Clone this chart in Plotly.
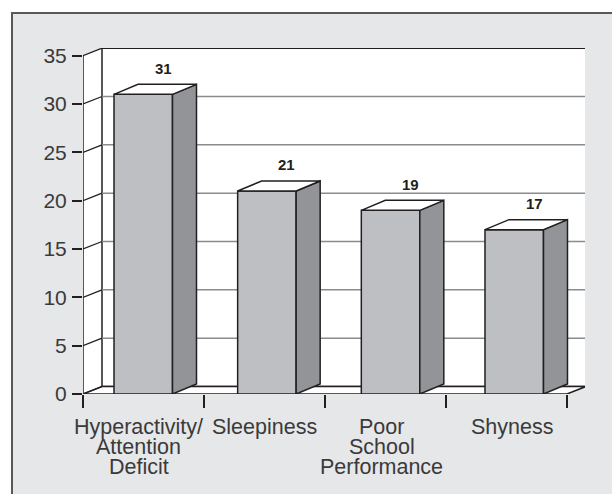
import plotly.graph_objects as go

# ---- data ----
categories = ["Hyperactivity/ Attention Deficit", "Sleepiness",
              "Poor School Performance", "Shyness"]
label_lines = [["Hyperactivity/", "Attention", "Deficit"],
               ["Sleepiness"],
               ["Poor", "School", "Performance"],
               ["Shyness"]]
values = [31, 21, 19, 17]
y_ticks = [0, 5, 10, 15, 20, 25, 30, 35]

# ---- geometry (pixels -> axis units) ----
W, H = 612, 494
ML, MR, MT, MB = 83, 27, 48, 100
PW = W - ML - MR
PH = H - MT - MB
PX_PER_CAT = 121.0
PX_PER_UNIT = 9.667


def ux(px):
    return px / PX_PER_CAT


def uy(px):
    return px / PX_PER_UNIT


n = len(categories)
y_top = y_ticks[-1]
WALL_DX, WALL_DY = ux(19), uy(7.5)
BAR_W = ux(58.5)
BAR_DX, BAR_DY = ux(24), uy(10)
BAR_START = ux(31)
BAR_PITCH = 1.022
LABEL_XSHIFT = [-5, 0, -4, 5]
LINE_STEP = 20

INK = "#231F20"
TEXT = "#3A3A3A"
FRAME_BG = "#E6E7E8"
FRONT = "#BEBFC2"
SIDE = "#929497"
GRID = "#8A8B8D"
FONT = "Liberation Sans, Arial, sans-serif"

shapes = []

# outer panel with its border
shapes.append(dict(type="rect", xref="paper", yref="paper", layer="below",
                   x0=(12 - ML) / PW, x1=(W + 20 - ML) / PW,
                   y0=-(H + 20 - (MT + PH)) / PH, y1=(MT + PH - 13) / PH,
                   fillcolor=FRAME_BG, line=dict(color="#58595B", width=2)))

# left side wall
shapes.append(dict(type="path", layer="below",
                   path=f"M0,0 L0,{y_top} L{WALL_DX},{y_top + WALL_DY} L{WALL_DX},{WALL_DY} Z",
                   fillcolor="white", line=dict(width=0)))
# back wall
shapes.append(dict(type="rect", layer="below",
                   x0=WALL_DX, x1=n + WALL_DX, y0=WALL_DY, y1=y_top + WALL_DY,
                   fillcolor="white", line=dict(color=INK, width=1.5)))
# back-wall gridlines
for v in y_ticks[1:-1]:
    shapes.append(dict(type="line", layer="below",
                       x0=WALL_DX, x1=n + WALL_DX, y0=v + WALL_DY, y1=v + WALL_DY,
                       line=dict(color=GRID, width=1.5)))
# floor
shapes.append(dict(type="path", layer="below",
                   path=f"M0,0 L{n},0 L{n + WALL_DX},{WALL_DY} L{WALL_DX},{WALL_DY} Z",
                   fillcolor="white", line=dict(color=INK, width=1.5)))
# side-wall diagonals
for v in y_ticks:
    shapes.append(dict(type="line", layer="below",
                       x0=0, x1=WALL_DX, y0=v, y1=v + WALL_DY,
                       line=dict(color=INK, width=1.3)))
# front value axis
shapes.append(dict(type="line", layer="below", x0=0, x1=0, y0=0, y1=y_top,
                   line=dict(color=INK, width=1.5)))

fig = go.Figure()

lefts = [BAR_START + BAR_PITCH * i for i in range(n)]
centers = [l + BAR_W / 2 for l in lefts]

# front faces
fig.add_trace(go.Bar(x=centers, y=values, width=BAR_W, base=0,
                     marker=dict(color=FRONT, line=dict(color=INK, width=1.5)),
                     hoverinfo="skip", showlegend=False))

# side and top faces
for l, v in zip(lefts, values):
    r = l + BAR_W
    fig.add_trace(go.Scatter(
        x=[r, r + BAR_DX, r + BAR_DX, r, r],
        y=[0, BAR_DY, v + BAR_DY, v, 0],
        mode="lines", fill="toself", fillcolor=SIDE,
        line=dict(color=INK, width=1.5), hoverinfo="skip", showlegend=False))
    fig.add_trace(go.Scatter(
        x=[l, r, r + BAR_DX, l + BAR_DX, l],
        y=[v, v, v + BAR_DY, v + BAR_DY, v],
        mode="lines", fill="toself", fillcolor="white",
        line=dict(color=INK, width=1.5), hoverinfo="skip", showlegend=False))

annotations = []
# value labels above each bar
for l, v in zip(lefts, values):
    annotations.append(dict(x=l + BAR_W / 2 + BAR_DX, y=v + BAR_DY, text=f"<b>{v}</b>",
                            showarrow=False, xshift=-4, yshift=16, yanchor="middle",
                            font=dict(family=FONT, size=15, color=INK)))
# category labels, one annotation per line, set tightly
for i, lines in enumerate(label_lines):
    for k, line in enumerate(lines):
        annotations.append(dict(x=i + 0.5, y=0, text=line, showarrow=False,
                                yanchor="middle", xshift=LABEL_XSHIFT[i],
                                yshift=-(32.7 + LINE_STEP * k),
                                font=dict(family=FONT, size=21.5, color=TEXT)))

fig.update_layout(
    width=W, height=H,
    margin=dict(l=ML, r=MR, t=MT, b=MB, pad=0),
    paper_bgcolor="white", plot_bgcolor="rgba(0,0,0,0)",
    shapes=shapes, annotations=annotations, showlegend=False,
    xaxis=dict(range=[0, PW / PX_PER_CAT], tickvals=list(range(n + 1)),
               ticktext=[""] * (n + 1), ticks="outside", ticklen=13, tickwidth=1.5,
               tickcolor=INK, showgrid=False, zeroline=False, showline=False,
               fixedrange=True),
    yaxis=dict(range=[0, PH / PX_PER_UNIT], tickvals=y_ticks, ticks="outside",
               ticklen=10, tickwidth=1.5, tickcolor=INK, showgrid=False,
               zeroline=False, showline=False, ticklabelstandoff=1,
               tickfont=dict(family=FONT, size=21, color=TEXT), fixedrange=True),
)

fig.write_html("out.html")
